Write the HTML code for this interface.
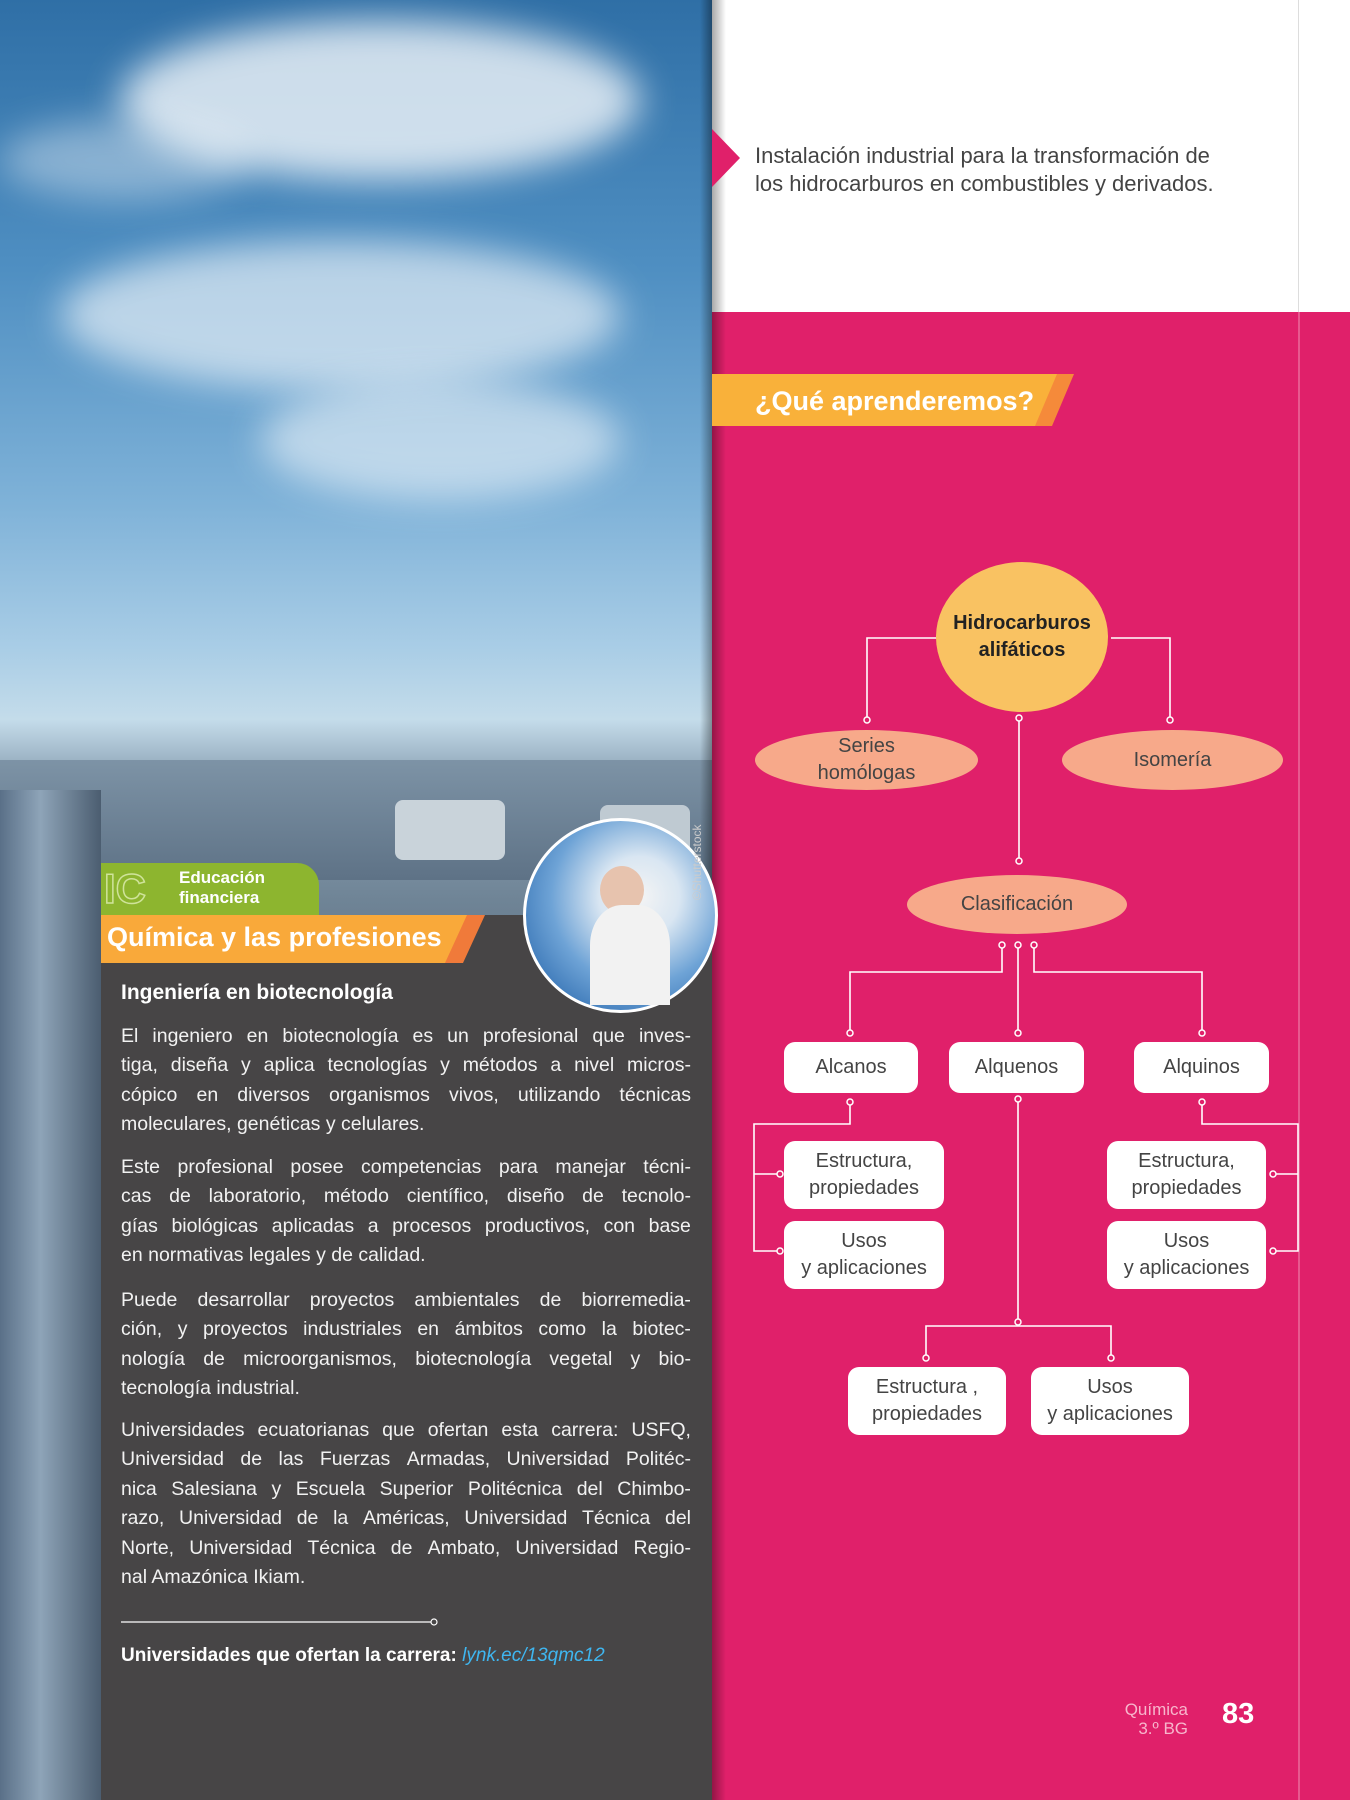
<!DOCTYPE html>
<html><head><meta charset="utf-8"><style>
*{margin:0;padding:0;box-sizing:border-box}
body{width:1350px;height:1800px;position:relative;overflow:hidden;font-family:"Liberation Sans",sans-serif;background:#fff}
.abs{position:absolute}
.photo{left:0;top:0;width:712px;height:1800px;background:linear-gradient(180deg,#2f6fa6 0%,#4f8fc2 15%,#7fb2d8 28%,#a9cde6 36%,#c4dcea 40%,#8fa6b8 43%,#6f8496 50%,#50647a 60%,#3e5266 80%,#2e3e50 100%)}
.cloud{border-radius:50%;background:rgba(255,255,255,.75);filter:blur(18px)}
.pink{left:712px;top:312px;width:638px;height:1488px;background:#e0206a}
.shadow{left:700px;top:0;width:26px;height:1800px;background:linear-gradient(90deg,rgba(0,0,0,.0),rgba(0,0,0,.35) 45%,rgba(0,0,0,0))}
.dark{left:101px;top:915px;width:611px;height:885px;background:#474546}
.txt{left:121px;width:570px;color:#f2f2f2;font-size:19.5px;line-height:29.4px}
.j{text-align:justify;text-align-last:justify;white-space:nowrap;display:flex;justify-content:space-between}
.box{position:absolute;background:#fff;border-radius:11px;color:#444;font-size:20px;text-align:center;display:flex;align-items:center;justify-content:center;line-height:27px}
.ell{position:absolute;border-radius:50%;color:#444;font-size:20px;text-align:center;display:flex;align-items:center;justify-content:center;line-height:27px;background:#f7a98a}
</style></head><body>
<div class="abs photo"></div>
<div class="abs cloud" style="left:120px;top:20px;width:520px;height:160px"></div>
<div class="abs cloud" style="left:60px;top:240px;width:560px;height:150px;opacity:.8"></div>
<div class="abs cloud" style="left:260px;top:380px;width:360px;height:120px;opacity:.7"></div>
<div class="abs cloud" style="left:0px;top:120px;width:250px;height:80px;opacity:.5"></div>
<div class="abs" style="left:0;top:760px;width:712px;height:120px;background:linear-gradient(180deg,#7d93a6,#5e7286)"></div>
<div class="abs" style="left:395px;top:800px;width:110px;height:60px;background:#c9d3da;border-radius:8px"></div>
<div class="abs" style="left:600px;top:805px;width:90px;height:55px;background:#bfcad2;border-radius:8px"></div>
<div class="abs" style="left:0;top:790px;width:101px;height:1010px;background:linear-gradient(90deg,#5a7088,#8ea4b8 40%,#4b5d70)"></div>
<div class="abs" style="left:712px;top:0;width:638px;height:312px;background:#fff"></div>
<div class="abs" style="left:1298px;top:0;width:1px;height:312px;background:#ddd"></div>
<div class="abs pink"></div>
<div class="abs" style="left:1298px;top:312px;width:2px;height:1488px;background:rgba(255,255,255,.25)"></div>
<div class="abs shadow"></div>
<svg class="abs" style="left:712px;top:129px" width="30" height="58"><polygon points="0,0 28,29 0,58" fill="#e0206a"/></svg>
<div class="abs" style="left:755px;top:142px;color:#444;font-size:22px;line-height:28px">Instalación industrial para la transformación de<br>los hidrocarburos en combustibles y derivados.</div>
<svg class="abs" style="left:712px;top:374px" width="365" height="52"><polygon points="0,0 362,0 340,52 0,52" fill="#f58a3a"/><polygon points="0,0 345,0 323,52 0,52" fill="#f9b13a"/></svg>
<div class="abs" style="left:755px;top:386px;color:#fff;font-weight:bold;font-size:27px">¿Qué aprenderemos?</div>

<svg class="abs" style="left:0;top:0" width="1350" height="1800">
<g stroke="#fff" stroke-width="1.6" fill="none">
<polyline points="939,638 867,638 867,720"/><polyline points="1111,638 1170,638 1170,720"/>
<line x1="1019" y1="720" x2="1019" y2="861"/>
<polyline points="1002,945 1002,972 850,972 850,1033"/><line x1="1018" y1="945" x2="1018" y2="1033"/><polyline points="1034,945 1034,972 1202,972 1202,1033"/>
<polyline points="850,1102 850,1124 754,1124 754,1251 780,1251"/><line x1="754" y1="1174" x2="780" y2="1174"/>
<polyline points="1202,1102 1202,1124 1298,1124 1298,1251 1273,1251"/><line x1="1298" y1="1174" x2="1273" y2="1174"/>
<line x1="1018" y1="1099" x2="1018" y2="1322"/><polyline points="926,1358 926,1326 1111,1326 1111,1358"/>
</g>
<g fill="#e0206a" stroke="#fff" stroke-width="1.5">
<circle cx="867" cy="720" r="3"/><circle cx="1170" cy="720" r="3"/><circle cx="1019" cy="718" r="3"/><circle cx="1019" cy="861" r="3"/>
<circle cx="1002" cy="945" r="3"/><circle cx="1018" cy="945" r="3"/><circle cx="1034" cy="945" r="3"/>
<circle cx="850" cy="1033" r="3"/><circle cx="1018" cy="1033" r="3"/><circle cx="1202" cy="1033" r="3"/>
<circle cx="850" cy="1102" r="3"/><circle cx="1202" cy="1102" r="3"/><circle cx="1018" cy="1099" r="3"/><circle cx="1018" cy="1322" r="3"/>
<circle cx="780" cy="1174" r="3"/><circle cx="780" cy="1251" r="3"/><circle cx="1273" cy="1174" r="3"/><circle cx="1273" cy="1251" r="3"/>
<circle cx="926" cy="1358" r="3"/><circle cx="1111" cy="1358" r="3"/>
</g>
</svg>

<div class="ell" style="left:936px;top:562px;width:172px;height:150px;background:#f9c262;font-weight:bold;color:#222;font-size:20px">Hidrocarburos<br>alifáticos</div>
<div class="ell" style="left:755px;top:730px;width:223px;height:60px">Series<br>homólogas</div>
<div class="ell" style="left:1062px;top:730px;width:221px;height:60px">Isomería</div>
<div class="ell" style="left:907px;top:875px;width:220px;height:59px">Clasificación</div>
<div class="box" style="left:784px;top:1042px;width:134px;height:51px">Alcanos</div>
<div class="box" style="left:949px;top:1042px;width:135px;height:51px">Alquenos</div>
<div class="box" style="left:1134px;top:1042px;width:135px;height:51px">Alquinos</div>
<div class="box" style="left:784px;top:1141px;width:160px;height:68px">Estructura,<br>propiedades</div>
<div class="box" style="left:784px;top:1221px;width:160px;height:68px">Usos<br>y aplicaciones</div>
<div class="box" style="left:1107px;top:1141px;width:159px;height:68px">Estructura,<br>propiedades</div>
<div class="box" style="left:1107px;top:1221px;width:159px;height:68px">Usos<br>y aplicaciones</div>
<div class="box" style="left:848px;top:1367px;width:158px;height:68px">Estructura ,<br>propiedades</div>
<div class="box" style="left:1031px;top:1367px;width:158px;height:68px">Usos<br>y aplicaciones</div>

<div class="abs" style="left:1100px;top:1700px;width:88px;text-align:right;color:#f7b6cc;font-size:17px;line-height:19px">Química<br>3.º BG</div>
<div class="abs" style="left:1222px;top:1698px;color:#fff;font-weight:bold;font-size:29px">83</div>

<div class="abs dark"></div>
<svg class="abs" style="left:0;top:1600px" width="712" height="40">
<line x1="121" y1="22" x2="434" y2="22" stroke="#fff" stroke-width="1.2"/>
<circle cx="434" cy="22" r="3" fill="#474546" stroke="#fff" stroke-width="1.2"/>
</svg>
<div class="abs" style="left:101px;top:863px;width:218px;height:52px;background:#8db52f;border-radius:0 22px 0 0"></div>
<div class="abs" style="left:104px;top:868px;color:transparent;-webkit-text-stroke:1.5px #cfe39a;font-size:42px;font-weight:bold;line-height:42px">IC</div>
<div class="abs" style="left:179px;top:868px;color:#fff;font-size:17px;font-weight:bold;line-height:20px">Educación<br>financiera</div>
<svg class="abs" style="left:101px;top:915px" width="385" height="48"><polygon points="0,0 384,0 362,48 0,48" fill="#f07a3a"/><polygon points="0,0 366,0 344,48 0,48" fill="#f9a93a"/></svg>
<div class="abs" style="left:107px;top:922px;color:#fff;font-weight:bold;font-size:27px">Química y las profesiones</div>
<div class="abs" style="left:523px;top:818px;width:195px;height:195px;border-radius:50%;background:radial-gradient(circle at 60% 40%,#f4f4f4 0,#d9e6f2 25%,#6ea3d6 55%,#3c78b8 80%);border:3px solid #fff"></div>
<div class="abs" style="left:600px;top:866px;width:44px;height:48px;border-radius:50%;background:#e7c3ae"></div>
<div class="abs" style="left:590px;top:905px;width:80px;height:100px;border-radius:40% 40% 0 0;background:#f2f2f2"></div>
<div class="abs" style="left:690px;top:900px;color:#ccc;font-size:12px;transform:rotate(-90deg);transform-origin:left top">©Shutterstock</div>

<div class="abs" style="left:121px;top:981px;color:#fff;font-weight:bold;font-size:21px">Ingeniería en biotecnología</div>
<div class="abs txt" style="top:1022px">
<div class="j"><span>El</span><span>ingeniero</span><span>en</span><span>biotecnología</span><span>es</span><span>un</span><span>profesional</span><span>que</span><span>inves-</span></div>
<div class="j"><span>tiga,</span><span>diseña</span><span>y</span><span>aplica</span><span>tecnologías</span><span>y</span><span>métodos</span><span>a</span><span>nivel</span><span>micros-</span></div>
<div class="j"><span>cópico</span><span>en</span><span>diversos</span><span>organismos</span><span>vivos,</span><span>utilizando</span><span>técnicas</span></div>
<div>moleculares, genéticas y celulares.</div>
</div>
<div class="abs txt" style="top:1153px">
<div class="j"><span>Este</span><span>profesional</span><span>posee</span><span>competencias</span><span>para</span><span>manejar</span><span>técni-</span></div>
<div class="j"><span>cas</span><span>de</span><span>laboratorio,</span><span>método</span><span>científico,</span><span>diseño</span><span>de</span><span>tecnolo-</span></div>
<div class="j"><span>gías</span><span>biológicas</span><span>aplicadas</span><span>a</span><span>procesos</span><span>productivos,</span><span>con</span><span>base</span></div>
<div>en normativas legales y de calidad.</div>
</div>
<div class="abs txt" style="top:1286px">
<div class="j"><span>Puede</span><span>desarrollar</span><span>proyectos</span><span>ambientales</span><span>de</span><span>biorremedia-</span></div>
<div class="j"><span>ción,</span><span>y</span><span>proyectos</span><span>industriales</span><span>en</span><span>ámbitos</span><span>como</span><span>la</span><span>biotec-</span></div>
<div class="j"><span>nología</span><span>de</span><span>microorganismos,</span><span>biotecnología</span><span>vegetal</span><span>y</span><span>bio-</span></div>
<div>tecnología industrial.</div>
</div>
<div class="abs txt" style="top:1416px">
<div class="j"><span>Universidades</span><span>ecuatorianas</span><span>que</span><span>ofertan</span><span>esta</span><span>carrera:</span><span>USFQ,</span></div>
<div class="j"><span>Universidad</span><span>de</span><span>las</span><span>Fuerzas</span><span>Armadas,</span><span>Universidad</span><span>Politéc-</span></div>
<div class="j"><span>nica</span><span>Salesiana</span><span>y</span><span>Escuela</span><span>Superior</span><span>Politécnica</span><span>del</span><span>Chimbo-</span></div>
<div class="j"><span>razo,</span><span>Universidad</span><span>de</span><span>la</span><span>Américas,</span><span>Universidad</span><span>Técnica</span><span>del</span></div>
<div class="j"><span>Norte,</span><span>Universidad</span><span>Técnica</span><span>de</span><span>Ambato,</span><span>Universidad</span><span>Regio-</span></div>
<div>nal Amazónica Ikiam.</div>
</div>
<div class="abs" style="left:121px;top:1645px;color:#fff;font-weight:bold;font-size:19px">Universidades que ofertan la carrera: <span style="color:#3fb6f0;font-weight:normal;font-style:italic">lynk.ec/13qmc12</span></div>
</body></html>
